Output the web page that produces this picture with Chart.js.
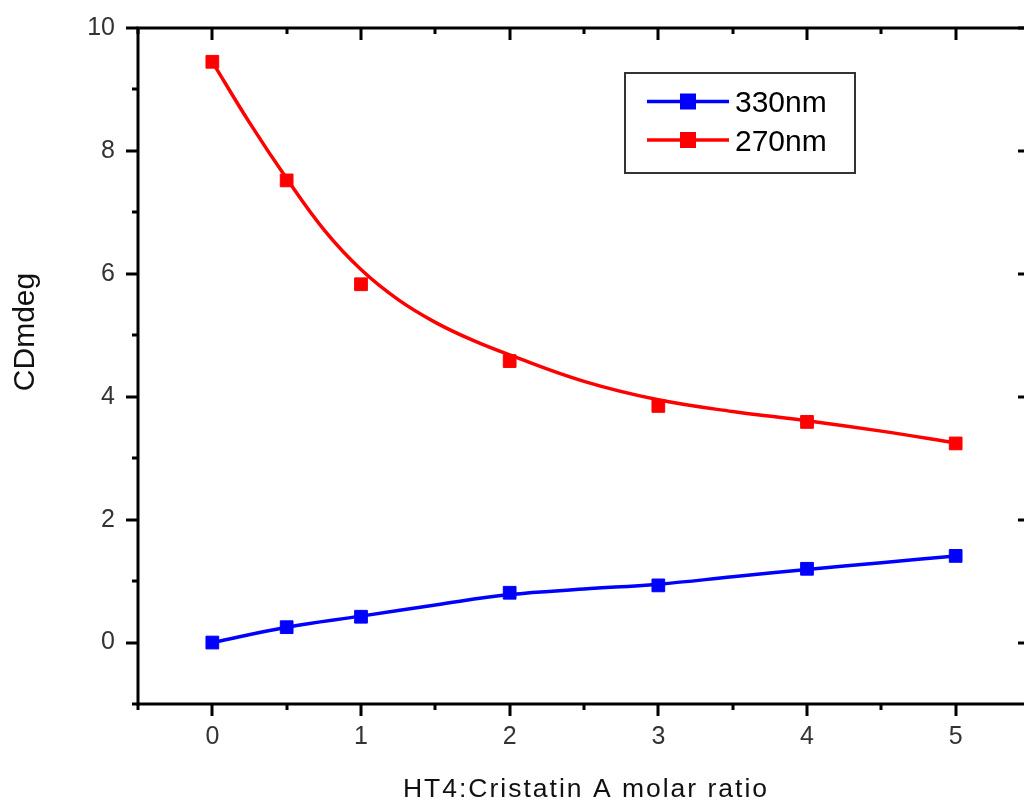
<!DOCTYPE html>
<html>
<head>
<meta charset="utf-8">
<script src="https://cdn.jsdelivr.net/npm/chart.js@4.4.1/dist/chart.umd.min.js"></script>
<style>
  html, body { margin: 0; padding: 0; background: #fff; }
  #wrap { width: 1024px; height: 798px; overflow: hidden; position: relative; }
  #c { position: absolute; left: 0; top: 0; }
</style>
</head>
<body>
<div id="wrap"><canvas id="c" width="1040" height="798"></canvas></div>
<script>
// ---- data ----
const xRatio   = [0, 0.5, 1, 2, 3, 4, 5];
const cd330    = [0.00, 0.25, 0.42, 0.81, 0.93, 1.20, 1.41];
const cd270    = [9.45, 7.52, 5.83, 4.58, 3.85, 3.59, 3.24];
// fitted curves drawn in the reference
const fitX330  = [0, 0.5, 1, 1.5, 2, 2.5, 3, 3.5, 4, 4.5, 5];
const fitY330  = [0.00, 0.25, 0.43, 0.61, 0.78, 0.87, 0.95, 1.07, 1.19, 1.30, 1.41];
const fitX270  = [0, 0.25, 0.5, 0.75, 1, 1.25, 1.5, 1.75, 2, 2.5, 3, 3.5, 4, 4.5, 5];
const fitY270  = [9.45, 8.46, 7.55, 6.72, 6.07, 5.58, 5.21, 4.92, 4.68, 4.25, 3.95, 3.76, 3.61, 3.44, 3.25];
const seriesLabels = ['330nm', '270nm'];
const seriesColors = ['#0000ff', '#ff0000'];
const xMajorTicks = [0, 1, 2, 3, 4, 5];
const yMajorTicks = [0, 2, 4, 6, 8, 10];
const xTitle = 'HT4:Cristatin A molar ratio';
const yTitle = 'CDmdeg';

const FONT = "'Liberation Sans', Arial, sans-serif";
const pts = (xs, ys) => xs.map((x, i) => ({ x: x, y: ys[i] }));

const framePlugin = {
  id: 'frame',
  afterDraw(chart) {
    const { ctx, chartArea: a, scales } = chart;
    const xs = scales.x, ys = scales.y;
    ctx.save();
    ctx.strokeStyle = '#000';
    ctx.lineWidth = 3;
    ctx.lineCap = 'butt';
    ctx.strokeRect(a.left, a.top, a.right - a.left, a.bottom - a.top);
    ctx.beginPath();
    // x ticks (bottom outward, top inward)
    for (let v = -0.5; v <= 5.5001; v += 0.5) {
      const px = Math.round(xs.getPixelForValue(v));
      const major = Math.abs(v - Math.round(v)) < 1e-6;
      const L = major ? 12 : 6;
      ctx.moveTo(px, a.bottom); ctx.lineTo(px, a.bottom + L);
      ctx.moveTo(px, a.top); ctx.lineTo(px, a.top + L);
    }
    // y ticks (left outward, right inward)
    for (let v = -1; v <= 10; v += 1) {
      const py = Math.round(ys.getPixelForValue(v));
      const major = v % 2 === 0;
      const L = major ? 12 : 6;
      ctx.moveTo(a.left, py); ctx.lineTo(a.left - L, py);
      ctx.moveTo(a.right, py); ctx.lineTo(a.right - L, py);
    }
    ctx.stroke();

    // axis titles
    ctx.fillStyle = '#111';
    ctx.font = '26.5px ' + FONT;
    ctx.textAlign = 'center';
    ctx.textBaseline = 'alphabetic';
    try { ctx.letterSpacing = '2px'; } catch (e) {}
    ctx.fillText(xTitle, 586, 797);
    try { ctx.letterSpacing = '0px'; } catch (e) {}
    ctx.save();
    ctx.translate(26, 332);
    ctx.rotate(-Math.PI / 2);
    ctx.font = '30px ' + FONT;
    ctx.textBaseline = 'middle';
    ctx.fillText(yTitle, 0, 0);
    ctx.restore();

    // legend
    const bx = 625, by = 73, bw = 230, bh = 100;
    ctx.fillStyle = '#fff';
    ctx.fillRect(bx, by, bw, bh);
    ctx.lineWidth = 2;
    ctx.strokeStyle = '#333';
    ctx.strokeRect(bx, by, bw, bh);
    const rows = [101.5, 140];
    seriesLabels.forEach((lab, i) => {
      const y = rows[i];
      ctx.strokeStyle = seriesColors[i];
      ctx.lineWidth = 3.5;
      ctx.beginPath();
      ctx.moveTo(647, y); ctx.lineTo(729, y);
      ctx.stroke();
      ctx.fillStyle = seriesColors[i];
      ctx.fillRect(680, y - 8, 16, 16);
      ctx.fillStyle = '#000';
      ctx.font = '30px ' + FONT;
      ctx.textAlign = 'left';
      ctx.textBaseline = 'alphabetic';
      ctx.fillText(lab, 735, y + 10.5);
    });
    ctx.restore();
  }
};

const lineDs = (label, xs, ys, color) => ({
  label: label,
  data: pts(xs, ys),
  showLine: true,
  borderColor: color,
  backgroundColor: color,
  borderWidth: 3.5,
  tension: 0.4,
  pointRadius: 0,
  order: 2
});
const markerDs = (label, xs, ys, color) => ({
  label: label,
  data: pts(xs, ys),
  showLine: false,
  borderColor: color,
  backgroundColor: color,
  pointStyle: 'rect',
  pointRadius: 9,
  pointBorderWidth: 1,
  order: 0
});

new Chart(document.getElementById('c'), {
  type: 'scatter',
  data: {
    datasets: [
      lineDs(seriesLabels[0] + ' fit', fitX330, fitY330, seriesColors[0]),
      markerDs(seriesLabels[0], xRatio, cd330, seriesColors[0]),
      lineDs(seriesLabels[1] + ' fit', fitX270, fitY270, seriesColors[1]),
      markerDs(seriesLabels[1], xRatio, cd270, seriesColors[1])
    ]
  },
  options: {
    responsive: false,
    animation: false,
    layout: { padding: { top: 28, right: 8, left: 0, bottom: 0 } },
    plugins: { legend: { display: false }, tooltip: { enabled: false } },
    scales: {
      x: {
        type: 'linear',
        min: -0.5, max: 5.5,
        afterFit(s) { s.height = 94; },
        border: { display: false },
        grid: { display: true, drawOnChartArea: false, drawTicks: true, tickLength: 12, color: 'rgba(0,0,0,0)' },
        ticks: {
          stepSize: 0.5,
          autoSkip: false,
          maxRotation: 0,
          padding: 6,
          color: '#333',
          font: { family: FONT, size: 25 },
          callback: (v) => xMajorTicks.includes(v) ? String(v) : ''
        }
      },
      y: {
        type: 'linear',
        min: -1, max: 10,
        afterFit(s) { s.width = 138; },
        border: { display: false },
        grid: { display: true, drawOnChartArea: false, drawTicks: true, tickLength: 12, color: 'rgba(0,0,0,0)' },
        ticks: {
          stepSize: 1,
          autoSkip: false,
          padding: 11,
          color: '#333',
          font: { family: FONT, size: 25 },
          callback: (v) => yMajorTicks.includes(v) ? String(v) : ''
        }
      }
    }
  },
  plugins: [framePlugin]
});
</script>
</body>
</html>
